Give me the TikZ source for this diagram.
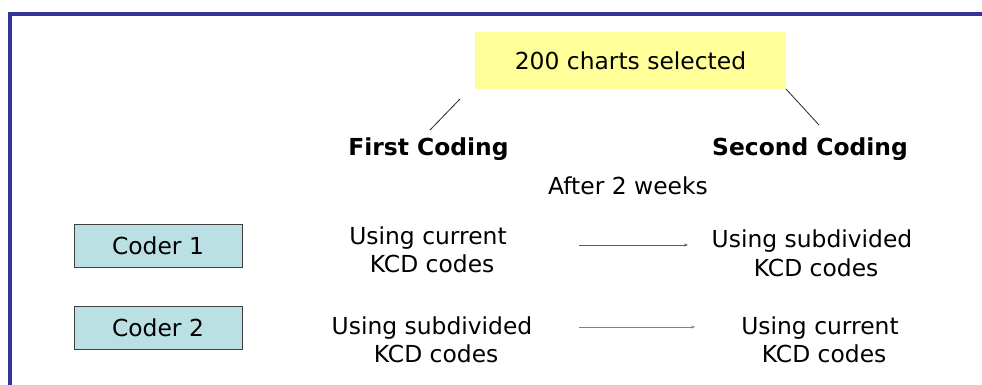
\documentclass[tikz,border=0pt]{standalone}
\usepackage{fontspec}
\setmainfont{DejaVu Sans}
\usetikzlibrary{arrows.meta}
\definecolor{framecol}{RGB}{51,51,153}
\definecolor{selfill}{RGB}{255,255,153}
\definecolor{coderfill}{RGB}{187,224,227}
\definecolor{coderline}{RGB}{64,64,64}
\begin{document}
\begin{tikzpicture}[x=1pt,y=-1pt,
  every node/.style={inner sep=0pt,outer sep=0pt,font=\fontsize{23.4}{28.5}\selectfont},
  selbox/.style={fill=selfill,minimum width=311,minimum height=57},
  coderbox/.style={fill=coderfill,draw=coderline,line width=0.9pt,minimum width=168,minimum height=43},
  head/.style={font=\fontsize{23.4}{28.5}\selectfont\bfseries,anchor=base},
  plain/.style={anchor=base},
  twoline/.style={align=center},
  link/.style={draw=black!85,line width=0.8pt},
  flow/.style={draw=black!65,line width=0.8pt,-{Stealth[length=4pt,width=3pt]}}
]
\useasboundingbox (0,0) rectangle (982,385);
\fill[white] (0,0) rectangle (982,385);
\draw[framecol,line width=4pt] (10.3,387) -- (10.3,14) -- (984,14);

\node[selbox] (sel) at (630.5,60.5) {200 charts selected};

\node[head] (first) at (428.5,155) {First Coding};
\node[head] (second) at (810,155) {Second Coding};
\node[plain] (after) at (628,194.5) {After 2 weeks};

\coordinate (l1) at (460,99);
\coordinate (l2) at (430,130);
\coordinate (r2) at (819,125);
\draw[link] (l1) -- (l2);
\draw[link] (sel.south east) -- (r2);

\node[coderbox] (c1) at (158,245.5) {Coder 1};
\node[coderbox] (c2) at (158,327.5) {Coder 2};

\node[twoline] (a1) at (428,250) {Using current\\\hspace{0.35em}KCD codes};
\node[twoline] (b1) at (812,253.5) {Using subdivided\\\hspace{0.35em}KCD codes};
\node[twoline] (a2) at (432,340) {Using subdivided\\\hspace{0.35em}KCD codes};
\node[twoline] (b2) at (820,340) {Using current\\\hspace{0.35em}KCD codes};

\coordinate (f1s) at (579,245);
\coordinate (f1e) at (688,245);
\coordinate (f2s) at (579,327);
\coordinate (f2e) at (695,327);
\draw[flow] (f1s) -- (f1e);
\draw[flow,draw=black!50] (f2s) -- (f2e);
\end{tikzpicture}
\end{document}
